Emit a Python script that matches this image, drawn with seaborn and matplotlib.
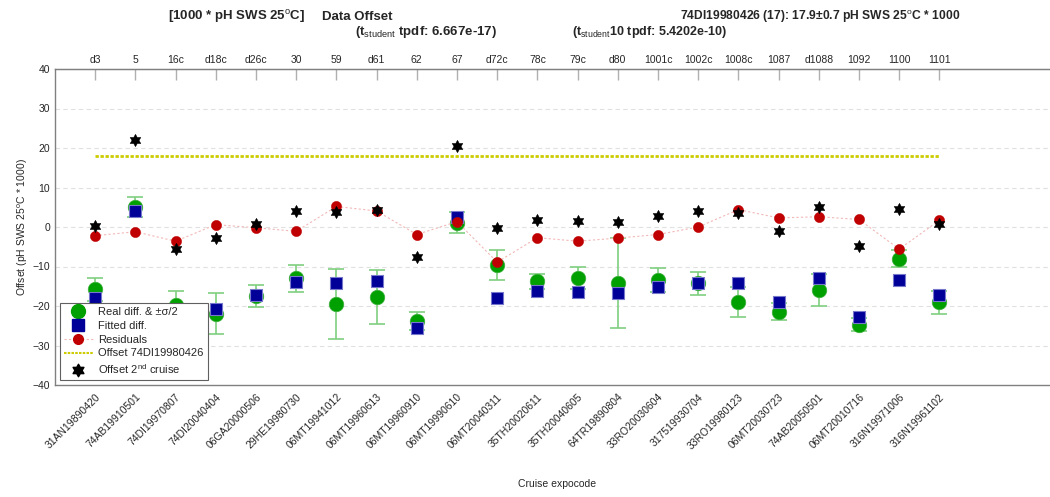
import matplotlib
matplotlib.use("Agg")
import matplotlib.pyplot as plt
from matplotlib.lines import Line2D
from matplotlib.path import Path
import seaborn as sns
import pandas as pd
import numpy as np

expocodes = ['31AN19890420', '74AB19910501', '74DI19970807', '74DI20040404', '06GA20000506',
             '29HE19980730', '06MT19941012', '06MT19960613', '06MT19960910', '06MT19990610',
             '06MT20040311', '35TH20020611', '35TH20040605', '64TR19890804', '33RO20030604',
             '317519930704', '33RO19980123', '06MT20030723', '74AB20050501', '06MT20010716',
             '316N19971006', '316N19961102']
top_labels = ['d3', '5', '16c', 'd18c', 'd26c', '30', '59', 'd61', '62', '67', 'd72c', '78c',
              '79c', 'd80', '1001c', '1002c', '1008c', '1087', 'd1088', '1092', '1100', '1101']
real_diff = [-15.8, 5.1, -19.8, -21.9, -17.5, -13.0, -19.5, -17.7, -23.8, 1.1, -9.5, -13.7,
             -13.0, -14.1, -13.4, -14.3, -19.0, -21.4, -15.9, -24.7, -8.0, -19.0]
sigma_half = [3.0, 2.5, 3.5, 5.1, 2.8, 3.45, 8.85, 6.9, 2.4, 2.6, 3.8, 1.9,
              2.75, 11.4, 3.05, 2.85, 3.8, 2.05, 4.0, 1.55, 2.1, 2.9]
fitted_diff = [-17.9, 4.05, -24.0, -20.8, -17.2, -13.8, -14.2, -13.6, -25.5, 2.5, -18.1, -16.1,
               -16.5, -16.7, -15.1, -14.1, -14.3, -18.9, -13.0, -22.8, -13.4, -17.2]
residuals = [-2.2, -1.2, -3.6, 0.6, -0.2, -1.1, 5.2, 4.05, -1.9, 1.35, -8.9, -2.7,
             -3.6, -2.8, -1.9, 0.0, 4.4, 2.3, 2.6, 1.9, -5.6, 1.7]
second_offset = [0.2, 21.9, -5.5, -2.9, 0.8, 4.05, 3.9, 4.4, -7.6, 20.5, -0.2, 1.8,
                 1.5, 1.3, 2.8, 4.0, 3.5, -0.9, 5.0, -4.7, 4.6, 0.7]
offset_value = 17.9

sns.set_style("white")
plt.rcParams['font.family'] = ['Liberation Sans', 'DejaVu Sans']
plt.rcParams['mathtext.fontset'] = 'custom'
plt.rcParams['mathtext.rm'] = 'Liberation Sans'
plt.rcParams['mathtext.it'] = 'Liberation Sans:italic'
plt.rcParams['mathtext.bf'] = 'Liberation Sans:bold'

hexagram = Path.unit_regular_star(6, 0.577)

df = pd.DataFrame({
    'pos': np.arange(1, len(expocodes) + 1),
    'real': real_diff, 'sig': sigma_half, 'fit': fitted_diff,
    'res': residuals, 'second': second_offset,
})

fig = plt.figure(figsize=(10.5, 4.97), dpi=100)
ax = fig.add_axes([55 / 1050, 1 - 385 / 497, 1005 / 1050, (385 - 69) / 497])

# grid
for yv in range(-30, 40, 10):
    ax.axhline(yv, color='#e0e0e0', lw=0.8, ls=(0, (4, 3)), zorder=0)

ax.errorbar(df['pos'], df['real'], yerr=df['sig'], fmt='none', ecolor='#7fd07f',
            elinewidth=1.2, capsize=6, capthick=1.2, zorder=2)
sns.scatterplot(data=df, x='pos', y='real', ax=ax, color='#00a000', s=110, marker='o',
                edgecolor='#40b040', linewidth=0.5, zorder=3, legend=False)
sns.scatterplot(data=df, x='pos', y='fit', ax=ax, color='#000099', s=80, marker='s',
                edgecolor='#7777cc', linewidth=0.8, zorder=4, legend=False)
sns.lineplot(data=df, x='pos', y='res', ax=ax, color='#f2b8b8', lw=0.8, ls=(0, (2, 2)),
             zorder=5, legend=False)
sns.scatterplot(data=df, x='pos', y='res', ax=ax, color='#c00000', s=55, marker='o',
                edgecolor='#c00000', linewidth=0.3, zorder=6, legend=False)
sns.scatterplot(data=df, x='pos', y='second', ax=ax, color='black', s=80, marker=hexagram,
                edgecolor='black', linewidth=0.3, zorder=7, legend=False)
ax.plot([df['pos'].iloc[0], df['pos'].iloc[-1]], [offset_value, offset_value],
        color='#cccc00', lw=2, ls=(0, (1.2, 0.6)), zorder=8)

ax.set_xlim(0, 25)
ax.set_ylim(-40, 40)
ax.set_yticks(range(-40, 41, 10))
ax.set_xticks(df['pos'])
ax.set_xticklabels(expocodes, rotation=45, ha='right', rotation_mode='anchor', fontsize=7.5)
ax.tick_params(axis='y', labelsize=7.5, direction='in', length=8, color='#b0b0b0', width=1.2)
ax.tick_params(axis='x', direction='in', length=8, color='#b0b0b0', width=1, pad=5)
ax.set_xlabel('Cruise expocode', fontsize=7.5, labelpad=20)
ax.set_ylabel('Offset (pH SWS 25$^{\\rm o}$C * 1000)', fontsize=7.5, labelpad=2)
for sp in ['left', 'top', 'bottom']:
    ax.spines[sp].set_color('#808080')
    ax.spines[sp].set_linewidth(1)
ax.spines['right'].set_visible(False)

top = ax.secondary_xaxis('top')
top.set_xticks(df['pos'])
top.set_xticklabels(top_labels, fontsize=7.5)
top.tick_params(direction='in', length=8, color='#b0b0b0', width=1, pad=3)
top.spines['top'].set_color('#808080')

handles = [
    Line2D([], [], ls='none', marker='o', color='#00a000', markersize=10),
    Line2D([], [], ls='none', marker='s', color='#000099', markersize=8),
    Line2D([], [], ls=(0, (2, 2)), lw=0.8, color='#f2b8b8', marker='o',
           markerfacecolor='#c00000', markeredgecolor='#c00000', markersize=7),
    Line2D([], [], ls=(0, (1.2, 0.6)), lw=1.5, color='#cccc00'),
    Line2D([], [], ls='none', marker=hexagram, color='black', markersize=9),
]
labels = ['Real diff. & \u00b1\u03c3/2', 'Fitted diff.', 'Residuals',
          'Offset 74DI19980426', 'Offset 2$^{\\rm nd}$ cruise']
leg = ax.legend(handles, labels, loc='lower left', bbox_to_anchor=(5 / 1005, 5 / 316),
                fontsize=8, frameon=True, fancybox=False, framealpha=1,
                edgecolor='#606060', borderpad=0.35, labelspacing=0.35,
                handlelength=2.6, handletextpad=0.5, borderaxespad=0)
leg.get_frame().set_linewidth(0.8)
leg.set_zorder(20)

tkw = dict(fontweight='bold', va='center', ha='left')
fig.text(168 / 1050, 1 - 17 / 497, '[1000 * pH SWS 25$^{\\rm o}$C]', fontsize=9.5, **tkw)
fig.text(322 / 1050, 1 - 17 / 497, 'Data Offset', fontsize=9.5, **tkw)
fig.text(355 / 1050, 1 - 32 / 497, '(t$_{\\rm student}$ tpdf: 6.667e-17)', fontsize=9.5, **tkw)
fig.text(680 / 1050, 1 - 17 / 497,
         '74DI19980426 (17): 17.9\u00b10.7 pH SWS 25$^{\\rm o}$C * 1000', fontsize=8.7, **tkw)
fig.text(572 / 1050, 1 - 32 / 497, '(t$_{\\rm student}$10 tpdf: 5.4202e-10)', fontsize=9, **tkw)

fig.savefig('out.png', dpi=100)
